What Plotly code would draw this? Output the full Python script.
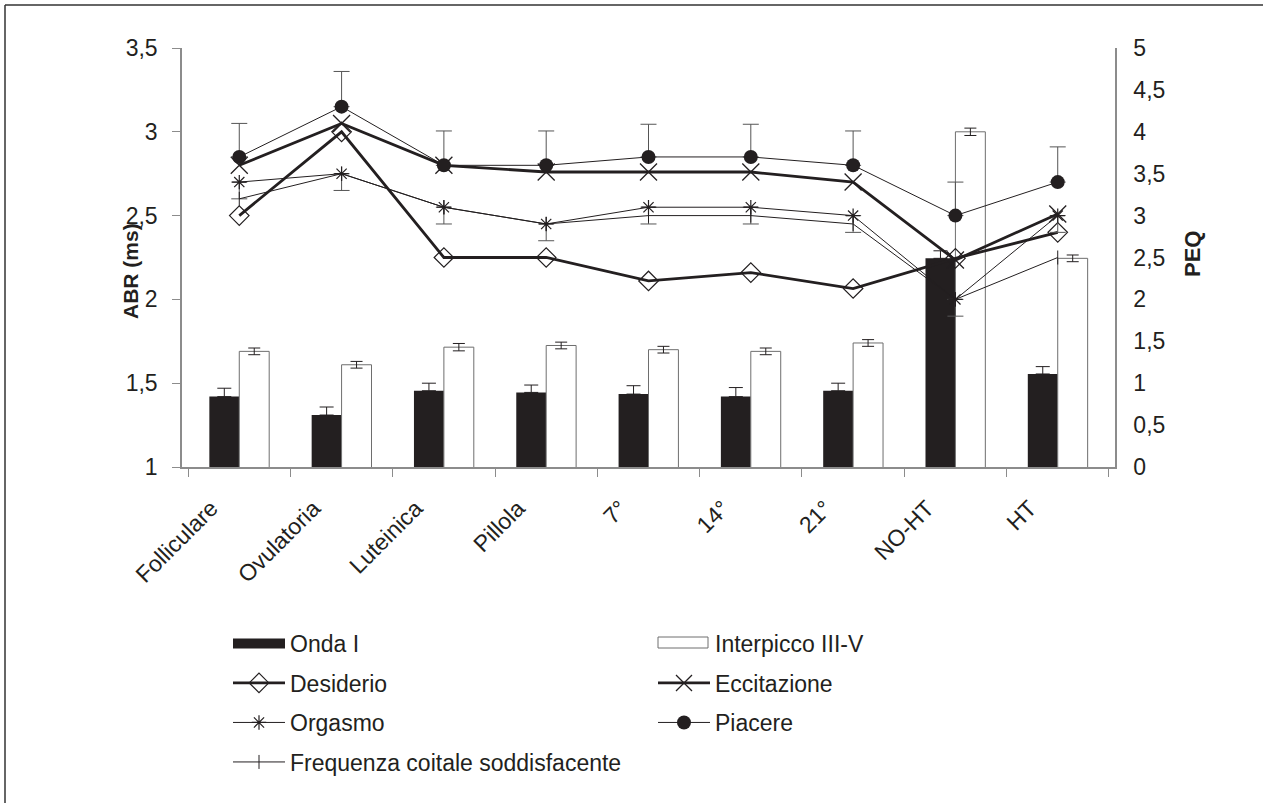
import plotly.graph_objects as go

# ---------------- data ----------------
categories = ["Folliculare", "Ovulatoria", "Luteinica", "Pillola", "7°", "14°", "21°", "NO-HT", "HT"]

onda_i = [1.42, 1.31, 1.455, 1.445, 1.435, 1.42, 1.455, 2.245, 1.555]
onda_i_err = [0.05, 0.048, 0.045, 0.044, 0.05, 0.054, 0.045, 0.045, 0.044]

interpicco = [1.69, 1.61, 1.715, 1.725, 1.70, 1.69, 1.74, 3.0, 2.245]
interpicco_err = [0.02, 0.02, 0.022, 0.02, 0.02, 0.02, 0.02, 0.022, 0.02]

desiderio = [3.0, 4.0, 2.5, 2.5, 2.22, 2.32, 2.13, 2.49, 2.8]
eccitazione = [3.6, 4.1, 3.6, 3.52, 3.52, 3.52, 3.4, 2.47, 3.02]
orgasmo = [3.4, 3.5, 3.1, 2.9, 3.1, 3.1, 3.0, 2.0, 3.0]
orgasmo_err = [0.2, 0.2, 0.2, 0.2, 0.2, 0.2, 0.2, 0.2, 0.2]
piacere = [3.7, 4.3, 3.6, 3.6, 3.7, 3.7, 3.6, 3.0, 3.4]
piacere_err = [0.4, 0.42, 0.41, 0.41, 0.39, 0.39, 0.41, 0.4, 0.42]
frequenza = [3.2, 3.5, 3.1, 2.9, 3.0, 3.0, 2.9, 2.0, 2.5]

abr_ticks = [1, 1.5, 2, 2.5, 3, 3.5]
peq_ticks = [0, 0.5, 1, 1.5, 2, 2.5, 3, 3.5, 4, 4.5, 5]

# ---------------- style ----------------
DARK = "#231f20"
GREY = "#8c8c8c"
FONT = "Liberation Sans, Arial, sans-serif"
zeros = [0] * len(categories)

fig = go.Figure()

# bars (left axis, ABR)
fig.add_trace(go.Bar(
    x=categories, y=onda_i, name="Onda I", showlegend=False,
    marker=dict(color=DARK, line=dict(width=0)),
    error_y=dict(type="data", symmetric=False, array=onda_i_err, arrayminus=zeros,
                 color=DARK, thickness=1, width=7),
))
fig.add_trace(go.Bar(
    x=categories, y=interpicco, name="Interpicco III-V", showlegend=False,
    marker=dict(color="white", line=dict(color="#6e6e6e", width=1)),
    error_y=dict(type="data", array=interpicco_err, color=DARK, thickness=1, width=6),
))

# legend entries for the bars
fig.add_trace(go.Scatter(
    x=[None], y=[None], mode="lines", name="Onda I", legend="legend", legendgroup="g1",
    line=dict(color=DARK, width=15),
))
fig.add_trace(go.Scatter(
    x=[None], y=[None], mode="lines", name="Interpicco III-V", legend="legend2", legendgroup="g2",
    line=dict(color="rgba(0,0,0,0)", width=1),
))

# lines (right axis, PEQ)
fig.add_trace(go.Scatter(
    x=categories, y=desiderio, name="Desiderio", yaxis="y2", legend="legend", legendgroup="g3",
    mode="lines+markers", line=dict(color=DARK, width=2.8),
    marker=dict(symbol="diamond-open", size=15, color=DARK, line=dict(width=1.2)),
))
fig.add_trace(go.Scatter(
    x=categories, y=eccitazione, name="Eccitazione", yaxis="y2", legend="legend2", legendgroup="g4",
    mode="lines+markers", line=dict(color=DARK, width=2.8),
    marker=dict(symbol="x-thin-open", size=17, color=DARK, line=dict(width=1.3, color=DARK)),
))
fig.add_trace(go.Scatter(
    x=categories, y=orgasmo, name="Orgasmo", yaxis="y2", legend="legend", legendgroup="g5",
    mode="lines+markers", line=dict(color=DARK, width=1),
    marker=dict(symbol="asterisk-open", size=12, color=DARK, line=dict(width=1.2, color=DARK)),
    error_y=dict(type="data", symmetric=False, array=zeros, arrayminus=orgasmo_err,
                 color="#555555", thickness=1, width=8),
))
fig.add_trace(go.Scatter(
    x=categories, y=piacere, name="Piacere", yaxis="y2", legend="legend2", legendgroup="g6",
    mode="lines+markers", line=dict(color=DARK, width=1),
    marker=dict(symbol="circle", size=14, color=DARK),
    error_y=dict(type="data", symmetric=False, array=piacere_err, arrayminus=zeros,
                 color="#555555", thickness=1, width=8),
))
fig.add_trace(go.Scatter(
    x=categories, y=frequenza, name="Frequenza coitale soddisfacente", yaxis="y2",
    legend="legend", legendgroup="g7",
    mode="lines+markers", line=dict(color=DARK, width=1),
    marker=dict(symbol="line-ns-open", size=10, color=DARK, line=dict(width=1, color=DARK)),
))

# pixel -> paper helpers
L, R, T, B = 182, 1115, 48, 467
def px(xp):
    return (xp - L) / (R - L)
def py(yp):
    return (B - yp) / (B - T)

legend_common = dict(
    orientation="v", xanchor="left", yanchor="top",
    itemwidth=52, traceorder="grouped", tracegroupgap=6.6,
    font=dict(family=FONT, size=23, color=DARK),
    bgcolor="rgba(0,0,0,0)", borderwidth=0,
)

fig.update_layout(
    width=1263, height=803,
    margin=dict(l=L, r=1263 - R, t=T, b=803 - B, autoexpand=False),
    paper_bgcolor="white", plot_bgcolor="white",
    separators=", ",
    font=dict(family=FONT, size=23, color=DARK),
    barmode="group", bargap=0.415, bargroupgap=0,
    showlegend=True,
    legend=dict(x=px(228), y=py(622), **legend_common),
    legend2=dict(x=px(653), y=py(622), **legend_common),
    xaxis=dict(
        type="category", tickangle=-45, tickson="boundaries",
        ticks="outside", ticklen=8, tickcolor=GREY, tickwidth=1.2,
        showline=True, linecolor=GREY, linewidth=1.5,
        showgrid=False, zeroline=False,
        ticklabelshift=-28, ticklabelstandoff=17,
        tickfont=dict(size=23, color=DARK),
    ),
    yaxis=dict(
        range=[1, 3.5], tickvals=abr_ticks,
        ticks="outside", ticklen=8, tickcolor=GREY, tickwidth=1.2,
        showline=True, linecolor=GREY, linewidth=1.5,
        showgrid=False, zeroline=False, ticklabelstandoff=10,
        tickfont=dict(size=23, color=DARK),
    ),
    yaxis2=dict(
        range=[0, 5], tickvals=peq_ticks, overlaying="y", side="right",
        ticks="", showline=True, linecolor=GREY, linewidth=1.5,
        showgrid=False, zeroline=False, ticklabelstandoff=12,
        tickfont=dict(size=23, color=DARK),
    ),
    annotations=[
        dict(text="<b>ABR (ms)</b>", xref="paper", yref="paper", x=px(130), y=py(271),
             textangle=-90, showarrow=False, font=dict(size=21, color=DARK),
             xanchor="center", yanchor="middle"),
        dict(text="<b>PEQ</b>", xref="paper", yref="paper", x=px(1192), y=py(254),
             textangle=-90, showarrow=False, font=dict(size=22, color=DARK),
             xanchor="center", yanchor="middle"),
    ],
    shapes=[
        # outer frame (top and left edges)
        dict(type="line", xref="paper", yref="paper", x0=px(5), x1=px(1263), y0=py(5), y1=py(5),
             line=dict(color="#333333", width=1.5)),
        dict(type="line", xref="paper", yref="paper", x0=px(5), x1=px(5), y0=py(5), y1=py(803),
             line=dict(color="#333333", width=1.5)),
        # swatch for the white bars in the legend
        dict(type="rect", xref="paper", yref="paper", x0=px(658), x1=px(708), y0=py(637), y1=py(648),
             line=dict(color="#6e6e6e", width=1), fillcolor="white"),
    ],
)

fig.write_html(
    "out.html",
    config={"displayModeBar": False},
    post_script="document.body.style.margin='0px';document.body.style.overflow='hidden';",
)
